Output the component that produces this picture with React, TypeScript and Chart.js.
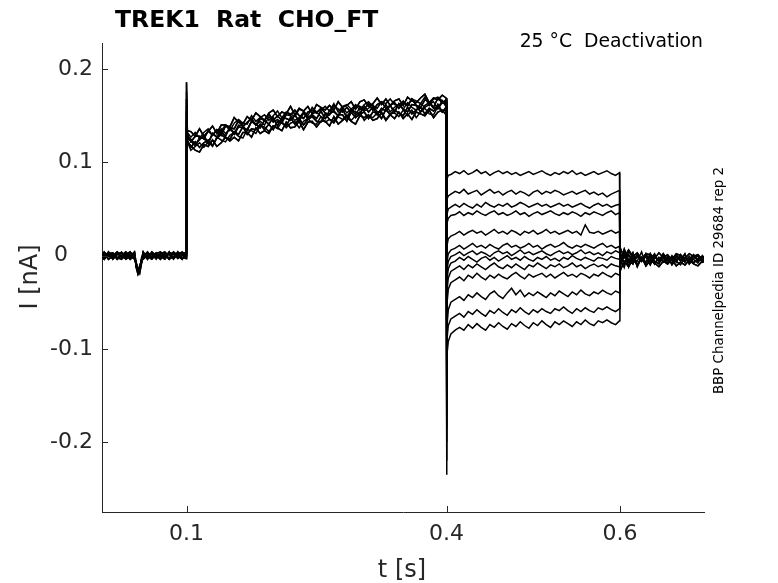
import React, { useEffect, useRef } from 'react';
import { Chart, registerables } from 'chart.js';

Chart.register(...registerables);

// time base of each part of the protocol [s]
const tPre = [0, 0.005, 0.01, 0.015, 0.02, 0.025, 0.03, 0.035, 0.04, 0.042, 0.044, 0.046, 0.048, 0.05, 0.055, 0.06, 0.065, 0.07, 0.075, 0.08, 0.085, 0.09, 0.095, 0.0995];
const tPulse = [0.1, 0.101, 0.105, 0.11, 0.115, 0.12, 0.125, 0.13, 0.135, 0.14, 0.145, 0.15, 0.155, 0.16, 0.165, 0.17, 0.175, 0.18, 0.185, 0.19, 0.195, 0.2, 0.205, 0.21, 0.215, 0.22, 0.225, 0.23, 0.235, 0.24, 0.245, 0.25, 0.255, 0.26, 0.265, 0.27, 0.275, 0.28, 0.285, 0.29, 0.295, 0.3, 0.305, 0.31, 0.315, 0.32, 0.325, 0.33, 0.335, 0.34, 0.345, 0.35, 0.355, 0.36, 0.365, 0.37, 0.375, 0.38, 0.385, 0.39, 0.395, 0.3995];
const tTail = [0.4, 0.4005, 0.402, 0.405, 0.41, 0.415, 0.42, 0.425, 0.43, 0.435, 0.44, 0.445, 0.45, 0.455, 0.46, 0.465, 0.47, 0.475, 0.48, 0.485, 0.49, 0.495, 0.5, 0.505, 0.51, 0.515, 0.52, 0.525, 0.53, 0.535, 0.54, 0.545, 0.55, 0.555, 0.56, 0.565, 0.57, 0.575, 0.58, 0.585, 0.59, 0.595, 0.5995];
const tPost = [0.6, 0.6005, 0.605, 0.61, 0.615, 0.62, 0.625, 0.63, 0.635, 0.64, 0.645, 0.65, 0.655, 0.66, 0.665, 0.67, 0.675, 0.68, 0.685, 0.69, 0.695, 0.7];

// currents in pA
const preSweeps = [
  [3, -2, 4, -4, 1, 3, -3, 2, -1, -10, -18, -13, -4, 2, -3, 4, 0, -4, 3, 1, -2, 4, -3, 2],
  [-3, 4, -1, 2, -4, 0, 4, -2, 3, -13, -20, -15, -7, -1, 4, -2, 3, -1, -4, 3, 2, -3, 1, -1],
  [1, -4, 2, 3, -2, -4, 1, 4, -3, -8, -15, -19, -9, 3, -1, -4, 2, 4, -1, -3, 4, 0, -4, 3],
  [-1, 2, -4, 0, 4, -1, -3, 3, 1, -11, -17, -11, -6, -3, 2, 1, -3, 2, 4, -4, -1, 3, 2, -3],
  [4, 0, 1, -2, 2, 3, -4, -1, 4, -9, -14, -16, -5, 4, -4, 3, -2, 0, -2, 4, -3, 1, 4, 0],
  [-2, 3, 0, -3, 3, -2, 2, -4, 0, -12, -16, -14, -8, 0, 3, -3, 1, -2, 2, -4, 3, -2, 0, 4],
  [2, -4, 3, 1, -3, 4, -1, 0, -4, -7, -19, -17, -3, -4, 0, 2, -4, 3, -3, 2, -4, 2, -2, -3],
];

const pulseSweeps = [
  [186, 134, 133, 128, 136, 128, 133, 139, 131, 140, 140, 138, 148, 143, 141, 149, 145, 153, 149, 145, 153, 156, 149, 154, 152, 160, 151, 158, 155, 160, 152, 162, 159, 156, 161, 156, 165, 159, 161, 165, 157, 165, 167, 160, 163, 169, 162, 168, 161, 166, 168, 161, 170, 166, 164, 169, 173, 164, 169, 167, 172, 169],
  [168, 130, 122, 128, 128, 125, 134, 129, 135, 129, 139, 137, 136, 145, 138, 143, 147, 140, 147, 145, 152, 145, 150, 145, 153, 151, 156, 150, 147, 154, 156, 153, 158, 153, 151, 161, 157, 154, 159, 153, 161, 160, 157, 163, 156, 162, 165, 158, 161, 164, 158, 164, 161, 168, 161, 159, 167, 165, 159, 169, 164, 167],
  [155, 126, 123, 118, 126, 126, 120, 131, 127, 133, 128, 138, 130, 138, 137, 135, 144, 141, 137, 145, 141, 148, 139, 148, 147, 145, 151, 144, 153, 148, 151, 147, 155, 147, 152, 155, 150, 157, 148, 156, 154, 152, 160, 154, 159, 151, 158, 155, 161, 154, 163, 157, 154, 162, 161, 154, 161, 164, 158, 158, 166, 160],
  [146, 124, 116, 122, 116, 121, 124, 118, 126, 130, 126, 125, 133, 130, 138, 130, 136, 135, 141, 135, 141, 135, 144, 142, 139, 148, 141, 147, 140, 146, 149, 144, 143, 152, 146, 144, 151, 151, 144, 154, 148, 152, 154, 147, 154, 153, 147, 157, 151, 156, 153, 150, 159, 152, 156, 159, 152, 158, 155, 162, 154, 159],
  [138, 121, 118, 113, 111, 119, 117, 124, 117, 121, 127, 123, 127, 123, 132, 132, 127, 137, 131, 134, 131, 139, 137, 134, 143, 137, 138, 144, 135, 143, 144, 138, 144, 144, 139, 149, 141, 145, 149, 144, 141, 150, 148, 151, 145, 147, 153, 145, 151, 147, 154, 147, 152, 146, 154, 152, 150, 156, 148, 154, 156, 151],
  [176, 132, 127, 132, 126, 132, 136, 129, 135, 134, 140, 134, 142, 146, 142, 141, 150, 144, 148, 151, 145, 150, 155, 148, 154, 152, 149, 157, 155, 150, 159, 154, 156, 160, 155, 163, 154, 160, 162, 157, 162, 156, 162, 165, 160, 158, 165, 163, 168, 162, 161, 166, 160, 168, 166, 163, 170, 161, 168, 170, 166, 163],
  [160, 127, 125, 120, 124, 129, 121, 131, 127, 136, 131, 136, 131, 140, 139, 134, 144, 140, 144, 140, 149, 143, 146, 142, 151, 150, 145, 148, 154, 146, 152, 154, 149, 147, 156, 154, 150, 159, 153, 157, 151, 159, 155, 158, 162, 154, 155, 162, 154, 159, 162, 157, 164, 159, 156, 163, 159, 162, 165, 157, 164, 163],
  [142, 122, 113, 117, 121, 116, 122, 117, 127, 124, 122, 129, 132, 128, 126, 135, 134, 131, 139, 138, 133, 139, 136, 144, 137, 142, 144, 137, 144, 147, 142, 141, 149, 143, 146, 142, 149, 146, 151, 145, 150, 154, 145, 150, 148, 153, 154, 146, 152, 153, 149, 156, 150, 156, 148, 154, 158, 152, 151, 160, 154, 157],
];

const tailSweeps = [
  [-40, 82, 86, 87, 90, 88, 91, 87, 89, 92, 88, 90, 86, 89, 91, 88, 90, 87, 89, 86, 88, 90, 87, 89, 91, 88, 86, 89, 87, 90, 88, 91, 87, 89, 86, 88, 90, 87, 89, 91, 88, 86, 89],
  [-60, 60, 64, 66, 69, 67, 71, 66, 68, 70, 65, 68, 71, 67, 69, 65, 68, 70, 66, 69, 67, 64, 68, 70, 66, 69, 67, 70, 68, 65, 67, 69, 66, 68, 70, 66, 68, 65, 67, 63, 66, 68, 70],
  [-75, 44, 50, 52, 55, 52, 56, 53, 51, 55, 52, 57, 54, 52, 55, 53, 56, 52, 54, 57, 55, 52, 54, 56, 53, 55, 52, 54, 56, 53, 55, 52, 54, 56, 53, 51, 54, 56, 53, 55, 52, 54, 55],
  [-90, 34, 40, 43, 44, 47, 43, 46, 44, 48, 45, 43, 46, 48, 44, 46, 43, 45, 48, 44, 46, 42, 45, 47, 44, 46, 48, 45, 43, 46, 44, 47, 45, 42, 46, 44, 47, 45, 43, 46, 48, 44, 46],
  [-110, 10, 18, 21, 23, 26, 22, 25, 27, 24, 26, 22, 25, 28, 24, 26, 23, 27, 25, 22, 26, 24, 27, 23, 25, 28, 24, 26, 23, 25, 27, 24, 26, 22, 33, 25, 24, 26, 23, 25, 27, 24, 26],
  [-125, -8, 2, 6, 8, 11, 7, 10, 13, 9, 11, 8, 12, 9, 7, 11, 13, 9, 11, 8, 10, 13, 9, 11, 7, 10, 12, 9, 11, 14, 10, 8, 11, 9, 12, 10, 8, 11, 13, 9, 11, 8, 10],
  [-140, -18, -6, -1, 1, 4, 0, 3, 5, 1, 4, 2, -1, 3, 5, 2, 4, 0, 3, 6, 2, 4, 1, 3, 5, 2, 0, 3, 5, 2, 4, 1, 3, 6, 2, 4, 1, 3, 0, 4, 2, 5, 3],
  [-155, -28, -14, -8, -6, -2, -5, -1, -4, -7, -3, -1, -5, -2, -6, -3, 0, -4, -2, -5, -1, -4, -6, -2, -4, -1, -5, -3, -6, -2, -4, 0, -3, -5, -2, -4, -6, -2, -3, -5, -1, -3, -4],
  [-170, -40, -24, -17, -14, -11, -15, -10, -13, -9, -12, -15, -11, -8, -12, -14, -10, -13, -9, -12, -15, -10, -12, -8, -11, -14, -10, -12, -9, -13, -11, -8, -12, -10, -14, -11, -9, -12, -10, -13, -9, -11, -12],
  [-185, -54, -36, -29, -26, -23, -27, -21, -24, -19, -23, -26, -21, -24, -20, -23, -25, -21, -18, -22, -25, -20, -23, -21, -19, -23, -20, -24, -21, -18, -22, -20, -23, -19, -21, -24, -20, -22, -18, -21, -23, -19, -21],
  [-200, -78, -58, -50, -47, -44, -48, -42, -45, -40, -44, -47, -41, -38, -43, -46, -40, -35, -42, -37, -44, -40, -43, -39, -42, -45, -40, -43, -38, -41, -44, -39, -42, -37, -41, -43, -39, -41, -37, -40, -42, -38, -40],
  [-220, -92, -75, -68, -65, -62, -66, -60, -63, -58, -62, -65, -59, -62, -57, -61, -64, -58, -61, -56, -60, -63, -58, -61, -57, -60, -62, -57, -59, -55, -59, -62, -57, -60, -56, -59, -61, -56, -58, -55, -58, -60, -57],
  [-235, -108, -92, -84, -80, -77, -80, -74, -78, -73, -77, -80, -74, -77, -72, -76, -79, -73, -76, -71, -75, -78, -72, -75, -70, -74, -77, -71, -74, -70, -73, -76, -71, -74, -69, -73, -75, -70, -72, -69, -72, -74, -70],
];

const postSweeps = [
  [5, 8, -2, 6, -1, 3, -4, 2, 1, -3, 3, -2, 1, -5, 2, 0, -3, 2, -1, 1, -4, 0],
  [-15, -16, -6, -12, -4, -10, -2, -11, -5, -8, -12, -6, -9, -4, -11, -7, -10, -5, -9, -11, -6, -8],
  [0, 3, -9, 1, -7, -1, -6, 2, -8, -2, -5, 0, -8, -3, 1, -6, -2, -7, 0, -5, -1, -3],
  [-8, -3, 4, -12, 1, -10, -3, -7, -1, -9, -2, -7, -1, -10, -4, -2, -7, -1, -8, -3, -6, -2],
  [2, -9, 7, -5, -9, 2, -6, -1, -10, 0, -6, 2, -5, -1, -7, 1, -5, -4, 1, -6, -2, -8],
  [-4, -11, 1, -7, 3, -12, -2, -8, 2, -6, -9, 1, -4, -8, -1, -5, 2, -9, -3, 0, -7, -4],
  [9, -5, -13, 5, -3, -6, 4, -11, -4, 2, -7, -3, -9, 0, -6, -10, -2, -6, -4, -8, 0, -5],
];

const xTicks = [0.1, 0.4, 0.6];
const xTickLabels = ['0.1', '0.4', '0.6'];
const yTicks = [-0.2, -0.1, 0, 0.1, 0.2];
const yTickLabels = ['-0.2', '-0.1', '0', '0.1', '0.2'];

const FONT = 'DejaVu Sans';
const AXIS = '#262626';

const decorations = {
  id: 'decorations',
  afterDraw(chart: Chart) {
    const { ctx, chartArea, scales } = chart;
    ctx.save();
    // inward tick marks, matlab style
    ctx.strokeStyle = AXIS;
    ctx.lineWidth = 1;
    ctx.beginPath();
    for (const v of xTicks) {
      const px = Math.round(scales.x.getPixelForValue(v)) + 0.5;
      ctx.moveTo(px, chartArea.bottom);
      ctx.lineTo(px, chartArea.bottom - 6);
    }
    for (const v of yTicks) {
      const py = Math.round(scales.y.getPixelForValue(v)) + 0.5;
      ctx.moveTo(chartArea.left, py);
      ctx.lineTo(chartArea.left + 6, py);
    }
    ctx.stroke();

    ctx.fillStyle = '#000';
    ctx.textBaseline = 'alphabetic';
    ctx.font = `bold 23.5px "${FONT}"`;
    ctx.textAlign = 'left';
    ctx.fillText('TREK1  Rat  CHO_FT', 115, 27);

    ctx.font = `18.8px "${FONT}"`;
    ctx.textAlign = 'right';
    ctx.fillText('25 °C  Deactivation', 703, 47);

    ctx.fillStyle = AXIS;
    ctx.font = `24px "${FONT}"`;
    ctx.textAlign = 'center';
    ctx.fillText('t [s]', 402, 577);

    ctx.save();
    ctx.translate(37, 277);
    ctx.rotate(-Math.PI / 2);
    ctx.fillText('I [nA]', 0, 0);
    ctx.restore();

    ctx.fillStyle = '#000';
    ctx.save();
    ctx.translate(723, 280.5);
    ctx.rotate(-Math.PI / 2);
    ctx.font = `13.4px "${FONT}"`;
    ctx.fillText('BBP Channelpedia ID 29684 rep 2', 0, 0);
    ctx.restore();

    ctx.restore();
  },
};

function App() {
  const canvasRef = useRef<HTMLCanvasElement>(null);

  useEffect(() => {
    if (!canvasRef.current) return;
    const times = [...tPre, ...tPulse, ...tTail, ...tPost];
    const datasets = tailSweeps.map((tail, i) => {
      const values = [
        ...preSweeps[i % preSweeps.length],
        ...pulseSweeps[i % pulseSweeps.length],
        ...tail,
        ...postSweeps[i % postSweeps.length],
      ];
      return {
        label: 'sweep ' + (i + 1),
        data: times.map((x, j) => ({ x, y: values[j] / 1000 })),
        borderColor: '#000',
        borderWidth: 1.5,
        pointRadius: 0,
        tension: 0,
        fill: false,
      };
    });

    const chart = new Chart(canvasRef.current, {
      type: 'line',
      data: { datasets },
      options: {
        animation: false,
        responsive: false,
        events: [],
        layout: { padding: { top: 43, right: 74, left: 0, bottom: 0 } },
        plugins: {
          legend: { display: false },
          tooltip: { enabled: false },
        },
        scales: {
          x: {
            type: 'linear',
            min: 0.0025,
            max: 0.697,
            afterFit: (s: any) => { s.height = 71; },
            afterBuildTicks: (s: any) => { s.ticks = xTicks.map((value) => ({ value })); },
            ticks: {
              autoSkip: false,
              maxRotation: 0,
              padding: 9,
              color: AXIS,
              font: { family: FONT, size: 22 },
              callback: (_v: any, i: number) => xTickLabels[i],
            },
            grid: { display: false, drawTicks: false },
            border: { display: true, color: AXIS, width: 1 },
          },
          y: {
            type: 'linear',
            min: -0.275,
            max: 0.228,
            afterFit: (s: any) => { s.width = 102; },
            afterBuildTicks: (s: any) => { s.ticks = yTicks.map((value) => ({ value })); },
            ticks: {
              autoSkip: false,
              padding: 9,
              color: AXIS,
              font: { family: FONT, size: 22 },
              // matlab leaves the lone "0" off the right edge
              callback: (_v: any, i: number) => (yTickLabels[i] === '0' ? '0\u2007\u2002' : yTickLabels[i]),
            },
            grid: { display: false, drawTicks: false },
            border: { display: true, color: AXIS, width: 1 },
          },
        },
      },
      plugins: [decorations],
    });

    return () => {
      chart.destroy();
    };
  }, []);

  return (
    <div style={{ position: 'absolute', left: 0, top: 0, width: 778, height: 583, background: '#fff' }}>
      <canvas ref={canvasRef} width={778} height={583} style={{ display: 'block' }} />
    </div>
  );
}

export default App;
